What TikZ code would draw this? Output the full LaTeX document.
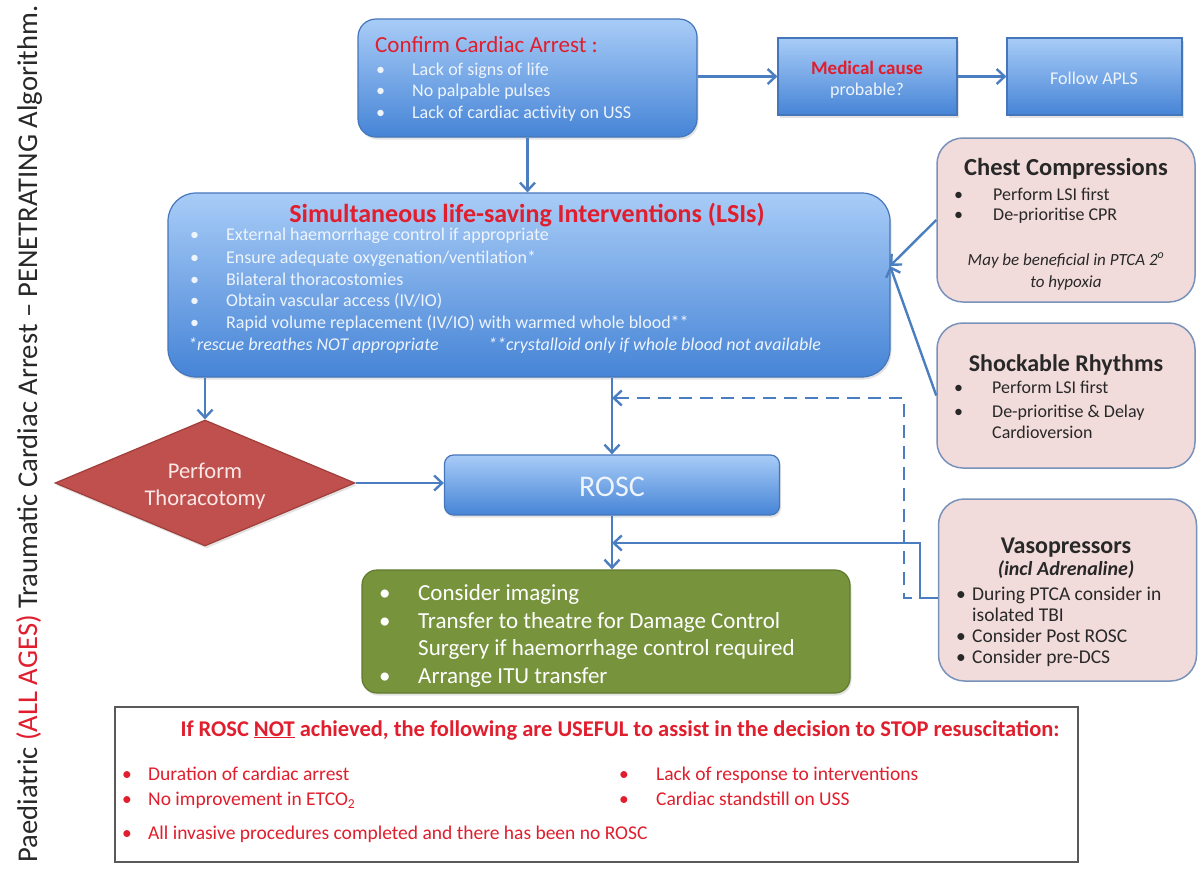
\documentclass[tikz,border=0pt]{standalone}
\usepackage{fontspec}
\setmainfont{Carlito}
\usetikzlibrary{shapes.geometric,arrows.meta,shadows}
\definecolor{tred}{RGB}{224,30,45}
\definecolor{btop}{RGB}{168,204,247}
\definecolor{bbot}{RGB}{70,132,214}
\definecolor{bdr}{RGB}{70,118,186}
\definecolor{acol}{RGB}{74,126,192}
\definecolor{pinkf}{RGB}{242,220,219}
\definecolor{pinkd}{RGB}{120,146,186}
\definecolor{gfill}{RGB}{119,147,60}
\definecolor{gdraw}{RGB}{96,122,46}
\definecolor{dfill}{RGB}{192,80,77}
\definecolor{ddraw}{RGB}{160,62,58}
\definecolor{dtext}{RGB}{250,232,230}
\definecolor{lblue}{RGB}{238,244,252}
\definecolor{dgray}{RGB}{40,40,40}
\newcommand\fs[2]{\fontsize{#1}{#2}\selectfont}
\newcommand\bl[2]{\makebox[#1][l]{\textbullet}#2}
\begin{document}
\begin{tikzpicture}[x=1pt,y=-1pt,
  shad/.style={drop shadow={opacity=0.22,shadow xshift=1.5pt,shadow yshift=-2.5pt}},
  bluebox/.style={draw=bdr,line width=1.2pt,top color=btop,bottom color=bbot,inner sep=0pt,shad},
  pinkbox/.style={draw=pinkd,line width=1.5pt,fill=pinkf,rounded corners=26pt,inner sep=0pt,minimum width=258pt},
  conn/.style={draw=acol,line width=2.4pt,-{Straight Barb[length=8pt,width=15pt]}},
  txt/.style={inner sep=0pt,anchor=base west},
  ctxt/.style={inner sep=0pt,anchor=base},
]
\useasboundingbox (0,0) rectangle (1200,868);
\fill[white] (0,0) rectangle (1200,868);

% boxes
\node[bluebox,rounded corners=18pt,minimum width=339pt,minimum height=118pt] (confirm) at (527.5,78) {};
\node[bluebox,minimum width=179pt,minimum height=77pt] (medical) at (867.5,76.5) {};
\node[bluebox,minimum width=175pt,minimum height=77pt] (apls) at (1094.5,76.5) {};
\node[bluebox,rounded corners=28pt,minimum width=722pt,minimum height=184pt] (lsi) at (529,285) {};
\node[pinkbox,minimum height=164pt] (chest) at (1066,220) {};
\node[pinkbox,minimum height=145pt] (shock) at (1066,395.5) {};
\node[pinkbox,minimum height=182pt] (vaso) at (1067.5,590) {};
\node[diamond,draw=ddraw,line width=1.2pt,fill=dfill,minimum width=300pt,minimum height=126pt,inner sep=0pt,aspect=2.4,shad] (thor) at (205,483) {};
\node[bluebox,rounded corners=9pt,minimum width=335pt,minimum height=60pt] (rosc) at (612,485) {};
\node[draw=gdraw,line width=1.2pt,fill=gfill,rounded corners=15pt,minimum width=488pt,minimum height=123pt,inner sep=0pt,shad] (green) at (606,631.5) {};
\node[draw=black!65,line width=2.2pt,fill=white,minimum width=963pt,minimum height=155pt,inner sep=0pt] (stop) at (596.5,784.5) {};

% confirm text
\node[txt,text=tred,font=\fs{23}{27}] (ct) at (375,52) {Confirm Cardiac Arrest :};
\node[txt,text=lblue,font=\fs{18}{22}] (c1) at (376,75) {\bl{36pt}{Lack of signs of life}};
\node[txt,text=lblue,font=\fs{18}{22}] (c2) at (376,96.5) {\bl{36pt}{No palpable pulses}};
\node[txt,text=lblue,font=\fs{18}{22}] (c3) at (376,118) {\bl{36pt}{Lack of cardiac activity on USS}};

% medical / apls
\node[ctxt,text=tred,font=\bfseries\fs{19}{23}] (m1) at (867,74) {Medical cause};
\node[ctxt,text=lblue,font=\fs{18}{22}] (m2) at (867,95) {probable?};
\node[ctxt,text=lblue,font=\fs{18}{22}] (a1) at (1094,84) {Follow APLS};

% LSI text
\node[ctxt,text=tred,font=\bfseries\fs{26}{30}] (lt) at (527,222) {Simultaneous life-saving Interventions (LSIs)};
\node[txt,text=lblue,font=\fs{18}{22}] (l1) at (190,240) {\bl{36pt}{External haemorrhage control if appropriate}};
\node[txt,text=lblue,font=\fs{18}{22}] (l2) at (190,263) {\bl{36pt}{Ensure adequate oxygenation/ventilation*}};
\node[txt,text=lblue,font=\fs{18}{22}] (l3) at (190,285) {\bl{36pt}{Bilateral thoracostomies}};
\node[txt,text=lblue,font=\fs{18}{22}] (l4) at (190,306) {\bl{36pt}{Obtain vascular access (IV/IO)}};
\node[txt,text=lblue,font=\fs{18}{22}] (l5) at (190,328) {\bl{36pt}{Rapid volume replacement (IV/IO) with warmed whole blood**}};
\node[txt,text=lblue,font=\itshape\fs{18}{22}] (l6) at (188,350) {*rescue breathes NOT appropriate};
\node[txt,text=lblue,font=\itshape\fs{18}{22}] (l7) at (488,350) {**crystalloid only if whole blood not available};

% chest compressions
\node[ctxt,text=dgray,font=\bfseries\fs{24.5}{28}] (cht) at (1066,175) {Chest Compressions};
\node[txt,text=dgray,font=\fs{18}{22}] (ch1) at (954,200) {\bl{39pt}{Perform LSI first}};
\node[txt,text=dgray,font=\fs{18}{22}] (ch2) at (954,220) {\bl{39pt}{De-prioritise CPR}};
\node[ctxt,text=dgray,font=\itshape\fs{17}{21}] (ch3) at (1066,265) {May be beneficial in PTCA 2\textsuperscript{o}};
\node[ctxt,text=dgray,font=\itshape\fs{17}{21}] (ch4) at (1066,287) {to hypoxia};

% shockable
\node[ctxt,text=dgray,font=\bfseries\fs{24}{28}] (sht) at (1066,371) {Shockable Rhythms};
\node[txt,text=dgray,font=\fs{18}{22}] (sh1) at (954,393) {\bl{38pt}{Perform LSI first}};
\node[txt,text=dgray,font=\fs{18}{22}] (sh2) at (954,417) {\bl{38pt}{De-prioritise \& Delay}};
\node[txt,text=dgray,font=\fs{18}{22}] (sh3) at (992,438) {Cardioversion};

% vasopressors
\node[ctxt,text=dgray,font=\bfseries\fs{24}{28}] (vt) at (1066,553) {Vasopressors};
\node[ctxt,text=dgray,font=\bfseries\itshape\fs{20}{24}] (vt2) at (1066,575) {(incl Adrenaline)};
\node[txt,text=dgray,font=\fs{19.5}{23}] (v1) at (956,600) {\bl{16pt}{During PTCA consider in}};
\node[txt,text=dgray,font=\fs{19.5}{23}] (v2) at (972,621) {isolated TBI};
\node[txt,text=dgray,font=\fs{19.5}{23}] (v3) at (956,642) {\bl{16pt}{Consider Post ROSC}};
\node[txt,text=dgray,font=\fs{19.5}{23}] (v4) at (956,663) {\bl{16pt}{Consider pre-DCS}};

% thoracotomy, rosc
\node[ctxt,text=dtext,font=\fs{22.5}{27}] (th1) at (205,478) {Perform};
\node[ctxt,text=dtext,font=\fs{22.5}{27}] (th2) at (205,505) {Thoracotomy};
\node[ctxt,text=lblue,font=\fs{30}{34}] (rt) at (612,496) {ROSC};

% green
\node[txt,text=white,font=\fs{23}{27}] (g1) at (379,600) {\bl{39pt}{Consider imaging}};
\node[txt,text=white,font=\fs{23}{27}] (g2) at (379,628) {\bl{39pt}{Transfer to theatre for Damage Control}};
\node[txt,text=white,font=\fs{23}{27}] (g3) at (418,655) {Surgery if haemorrhage control required};
\node[txt,text=white,font=\fs{23}{27}] (g4) at (379,683) {\bl{39pt}{Arrange ITU transfer}};

% stop box text
\node[ctxt,text=tred,font=\bfseries\fs{22.5}{27}] (st) at (620,736) {If ROSC \underline{NOT} achieved, the following are USEFUL to assist in the decision to STOP resuscitation:};
\node[txt,text=tred,font=\fs{19.5}{23}] (s1) at (122,780) {\bl{26pt}{Duration of cardiac arrest}};
\node[txt,text=tred,font=\fs{19.5}{23}] (s2) at (122,805) {\bl{26pt}{No improvement in ETCO\textsubscript{2}}};
\node[txt,text=tred,font=\fs{19.5}{23}] (s3) at (122,839) {\bl{26pt}{All invasive procedures completed and there has been no ROSC}};
\node[txt,text=tred,font=\fs{19.5}{23}] (s4) at (619,780) {\bl{37pt}{Lack of response to interventions}};
\node[txt,text=tred,font=\fs{19.5}{23}] (s5) at (619,805) {\bl{37pt}{Cardiac standstill on USS}};

% left title
\node[rotate=90,inner sep=0pt,text=dgray,font=\fs{28.6}{32}] (ttl) at (29,434) {Paediatric {\color{tred}(ALL AGES)} Traumatic Cardiac Arrest -- PENETRATING Algorithm.};

% connectors
\coordinate (lsiin) at (890,266);
\coordinate (vj) at (612,543);
\coordinate (dj) at (612,398);
\draw[conn] (confirm.south) -- (confirm.south |- lsi.north);
\draw[conn] (confirm.east |- medical.west) -- (medical.west);
\draw[conn] (medical.east) -- (apls.west);
\draw[conn] (lsi.south -| thor.north) -- (thor.north);
\draw[conn] (lsi.south -| rosc.north) -- (rosc.north);
\draw[conn] (thor.east) -- (thor.east -| rosc.west);
\draw[conn] (rosc.south) -- (rosc.south |- green.north);
\draw[conn] (chest.west) -- (lsiin);
\draw[conn] (shock.west) -- (lsiin);
\draw[conn] ([yshift=-8pt]vaso.west) -- ++(-18,0) |- (vj);
\draw[conn,dash pattern=on 13pt off 8pt] ([xshift=-26pt,yshift=-8pt]vaso.west) -- ++(-8,0) |- (dj);
\end{tikzpicture}
\end{document}
